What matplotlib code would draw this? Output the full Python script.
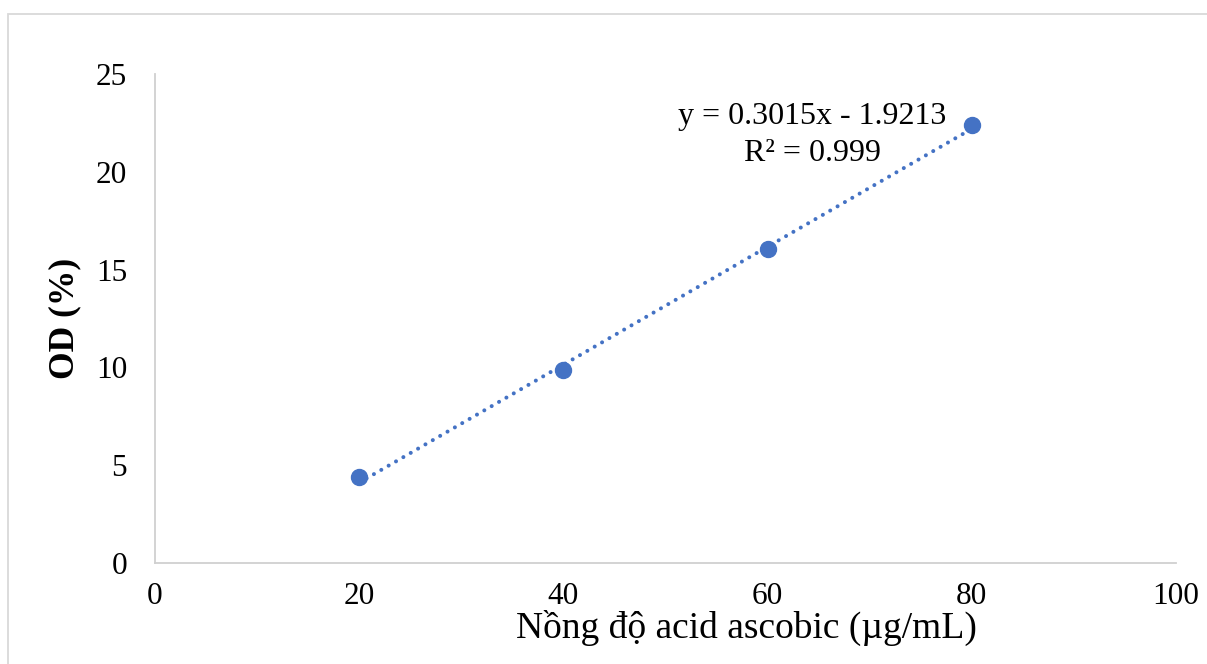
import numpy as np
import matplotlib
matplotlib.use("Agg")
import matplotlib.pyplot as plt
from matplotlib.patches import Rectangle

# DATA
concentration = [20, 40, 60, 80]          # µg/mL
od_percent = [4.38, 9.87, 16.05, 22.37]   # %
slope = 0.3015
intercept = -1.9213
r_squared = 0.999
x_ticks = [0, 20, 40, 60, 80, 100]
y_ticks = [0, 5, 10, 15, 20, 25]

# STYLE
blue = '#4472C4'
grey = '#D0D0D0'
plt.rcParams['font.family'] = ['Liberation Serif', 'DejaVu Serif']

fig = plt.figure(figsize=(12.07, 6.64), dpi=100)
ax = fig.add_axes([155 / 1207, 1 - 563 / 664, 1021 / 1207, 489 / 664])

# outer chart border (runs off the right and bottom edges)
fig.patches.append(Rectangle((8 / 1207, -0.2), 2, 1 - 14 / 664 + 0.2,
                             transform=fig.transFigure, fill=False,
                             ec='#D9D9D9', lw=1.3))

# trendline
x_fit = np.array([concentration[0], concentration[-1]])
ax.plot(x_fit, slope * x_fit + intercept, color=blue, lw=2.9,
        linestyle=(0, (0.01, 2.1)), dash_capstyle='round', zorder=2)

# points
ax.plot(concentration, od_percent, 'o', color=blue, markersize=11.5, zorder=3)

# equation label
ax.text(64.35, 22.44, f"y = {slope}x - {abs(intercept)}", ha='center',
        va='baseline', fontsize=23)
ax.text(64.35, 20.55, f"R² = {r_squared}", ha='center', va='baseline',
        fontsize=23)

ax.set_xlim(0, 100)
ax.set_ylim(0, 25)
ax.set_xticks(x_ticks)
ax.set_yticks(y_ticks)
ax.tick_params(axis='both', length=0, labelsize=22.5)
ax.tick_params(axis='x', pad=14)
ax.tick_params(axis='y', pad=20)

for side in ['top', 'right']:
    ax.spines[side].set_visible(False)
for side in ['left', 'bottom']:
    ax.spines[side].set_color(grey)
    ax.spines[side].set_linewidth(1.3)

ax.set_xlabel("Nồng độ acid ascobic (µg/mL)", fontsize=27, va='baseline')
ax.xaxis.set_label_coords((746 - 155) / 1021, (563 - 638) / 489)
ax.set_ylabel("OD (%)", fontsize=25.5, fontweight='bold', va='center')
ax.yaxis.set_label_coords((65 - 155) / 1021, 0.5)

fig.savefig('out.png', dpi=100)
